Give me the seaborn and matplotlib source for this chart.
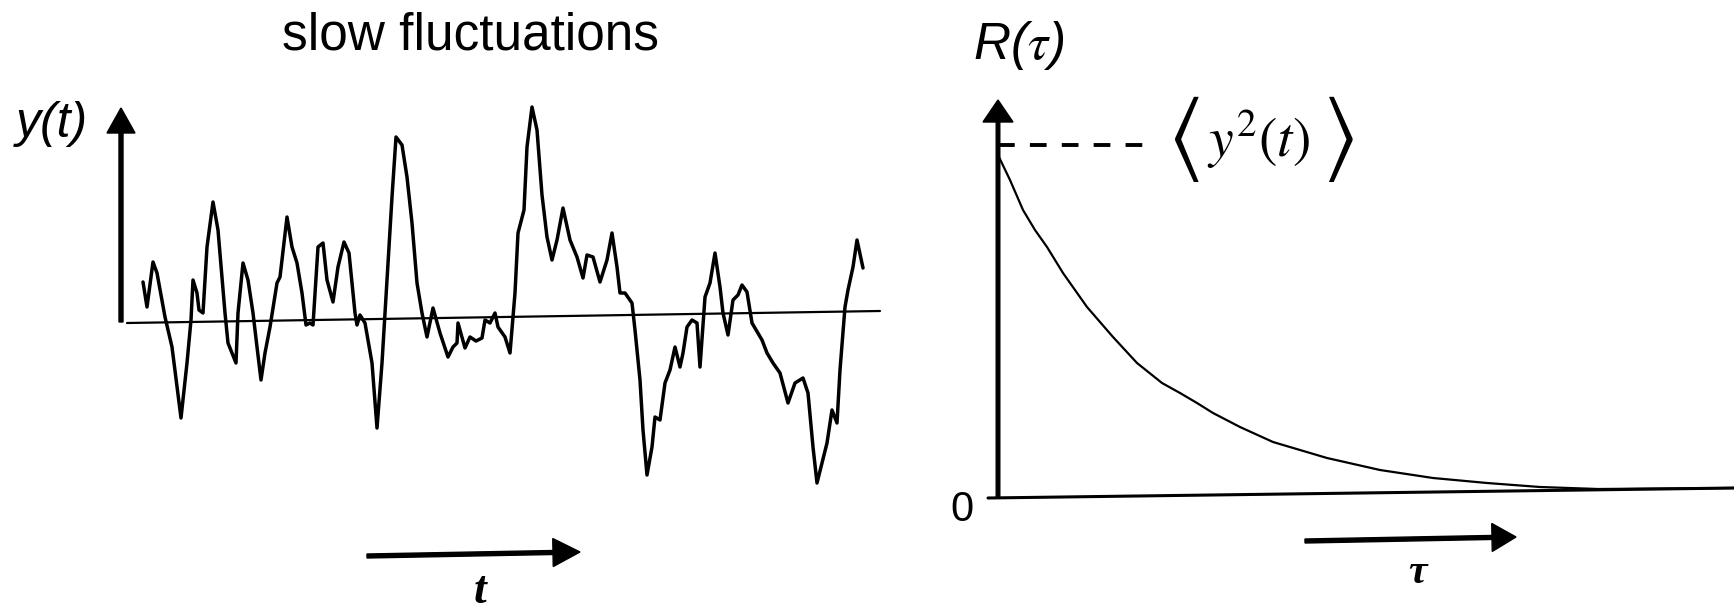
import numpy as np
import pandas as pd
import matplotlib
matplotlib.use("Agg")
import matplotlib.pyplot as plt
import seaborn as sns

# ---------------- data (arbitrary units) ----------------
# slow fluctuations y(t)
t_vals = [22, 26, 32, 36, 44, 51, 60, 66, 70, 72, 76, 78, 82, 86, 92, 97, 104, 107,
          115, 117, 122, 127, 132, 136, 140, 144, 149, 156, 159, 166, 171, 176, 181,
          185, 189, 192, 197, 202, 206, 212, 217, 223, 228, 234, 236, 239, 244, 251,
          256, 261, 265, 271, 275, 281, 286, 291, 296, 301, 306, 312, 319, 327,
          332, 336, 337, 344, 349, 355, 361, 364, 369, 374, 377, 384, 389, 394, 397, 403,
          406, 411, 416, 421, 426, 431, 436, 442, 449, 456, 462, 466, 472, 479, 486,
          491, 496, 499, 504, 511, 514, 519, 522, 526, 531, 534, 539, 544, 549, 554,
          559, 562, 566, 571, 576, 579, 584, 589, 594, 599, 602, 607, 612, 617, 621,
          626, 631, 641, 646, 652, 659, 667, 674, 682, 687, 692, 696, 701, 706, 711,
          716, 719, 724, 727, 732, 736, 741, 742]
y_vals = [41, 16, 61, 50, 6, -24, -95, -40, 3, 43, 30, 13, 10, 76, 121, 93, 10, -20,
          -40, 10, 60, 43, 10, -24, -57, -30, -4, 40, 46, 106, 76, 60, 30,
          -2, 0, -2, 76, 80, 43, 21, 56, 81, 70, 10, -2, 8, 0, -40,
          -105, -40, 26, 126, 186, 178, 146, 100, 40, 10, -14, 15, -10, -34,
          -24, -20, 0, -25, -14, -18, -15, 3, 0, 10, -4, -14, -30, 30, 90, 113,
          176, 216, 193, 128, 86, 63, 83, 115, 83, 66, 45, 68, 66, 41, 63,
          90, 56, 30, 30, 20, -7, -57, -107, -152, -124, -94, -97, -60, -47, -24,
          -44, -30, -4, 3, 0, -44, 26, 40, 70, 36, 10, -12, 23, 28, 38,
          31, 0, -17, -30, -40, -50, -80, -60, -55, -70, -124, -160, -140, -120, -87,
          -100, -47, 16, 33, 56, 83, 60, 55]
# zero line of the left panel (slightly tilted scan)
base_t = [6, 759]
base_y = [0, 12]

# autocorrelation R(tau)
tau_vals = [0, 12, 25, 37, 49, 65, 77, 89, 102, 115, 139, 164, 182, 199, 215, 242,
            275, 329, 382, 435, 489, 542, 600, 736]
R_vals = [343, 318, 288, 268, 251, 225, 208, 191, 176, 161, 135, 115, 105, 95, 85, 71,
          56, 40, 28, 20, 15, 11, 9, 10]
zero_tau = [-10, 736]
zero_R = [0, 10]
msq_tau = [0, 149]
msq_R = [353, 353]

# labels
title_text = "slow fluctuations"
ylabel_left = "y(t)"
xlabel_left = "t"
ylabel_right = r"R($\tau$)"
xlabel_right = "τ"
msq_core = r"$y^{2}(t)$"
msq_open = r"$\langle$"
msq_close = r"$\rangle$"
zero_label = "0"

# ---------------- figure ----------------
sns.set_theme(style="white")
plt.rcParams["mathtext.fontset"] = "stix"
plt.rcParams["font.family"] = ["Liberation Sans", "DejaVu Sans"]

W, H = 1734, 613
fig = plt.figure(figsize=(W / 100, H / 100), dpi=100)
fig.patch.set_facecolor("white")


def fx(x):
    return x / W


def fy(y):
    return 1 - y / H


# left panel: 1 data unit = 1 px, origin at pixel (121, 323)
axL = fig.add_axes([0, 0, 900 / W, 1])
axL.set_axis_off()
sns.lineplot(x=base_t, y=base_y, ax=axL, color="black", lw=1.6,
             estimator=None, sort=False, legend=False)
sns.lineplot(x=t_vals, y=y_vals, ax=axL, color="black", lw=2.5,
             estimator=None, sort=False, legend=False)
axL.arrow(0, 1, 0, 214, width=4, head_width=28, head_length=25,
          length_includes_head=True, color="black")
axL.arrow(246, -233, 213, 4, width=4, head_width=28, head_length=27,
          length_includes_head=True, color="black")
axL.set_xlim(-121, 900 - 121)
axL.set_ylim(323 - H, 323)

# right panel: origin at pixel (998, 498)
axR = fig.add_axes([900 / W, 0, 834 / W, 1])
axR.set_axis_off()
sns.lineplot(x=zero_tau, y=zero_R, ax=axR, color="black", lw=2.2,
             estimator=None, sort=False, legend=False)
sns.lineplot(x=tau_vals, y=R_vals, ax=axR, color="black", lw=1.6,
             estimator=None, sort=False, legend=False)
axR.plot(msq_tau, msq_R, color="black", lw=2.8, linestyle=(0, (4.3, 3.9)))
axR.arrow(0, 0, 0, 398, width=3.6, head_width=30, head_length=22,
          length_includes_head=True, color="black")
axR.arrow(307, -43, 211, 4, width=4, head_width=28, head_length=24,
          length_includes_head=True, color="black")
axR.set_xlim(-98, 834 - 98)
axR.set_ylim(498 - H, 498)

# texts
fig.text(fx(470), fy(50), title_text, ha="center", va="baseline", fontsize=37,
         color="black")
fig.text(fx(16), fy(124), ylabel_left, ha="left", va="center", fontsize=36,
         style="italic", color="black")
fig.text(fx(480), fy(603), xlabel_left, ha="center", va="baseline", fontsize=33,
         family=["Liberation Serif", "DejaVu Serif"], style="italic",
         weight="bold", color="black")
fig.text(fx(973), fy(45), ylabel_right, ha="left", va="center", fontsize=37,
         style="italic", color="black")
fig.text(fx(1183), fy(139), msq_open, ha="center", va="center", fontsize=66,
         color="black")
fig.text(fx(1259), fy(139), msq_core, ha="center", va="center", fontsize=40,
         color="black")
fig.text(fx(1338), fy(139), msq_close, ha="center", va="center", fontsize=66,
         color="black")
fig.text(fx(962), fy(510), zero_label, ha="center", va="center", fontsize=30,
         color="black")
fig.text(fx(1417), fy(573), xlabel_right, ha="center", va="center", fontsize=30,
         family=["Liberation Serif", "DejaVu Serif"], style="italic",
         weight="bold", color="black")

fig.savefig("out.png", dpi=100, facecolor="white")
